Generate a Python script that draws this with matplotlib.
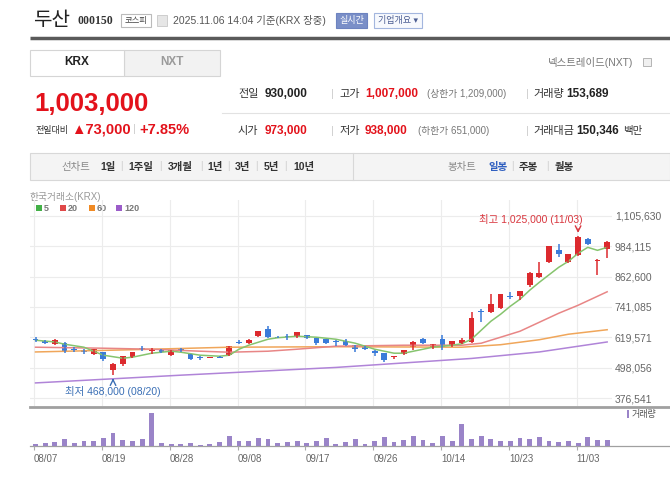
import matplotlib
matplotlib.use('Agg')
import matplotlib.pyplot as plt
from matplotlib.patches import Rectangle

plt.rcParams['font.family'] = ['Liberation Sans', 'Noto Sans CJK KR', 'DejaVu Sans']

# daily candles, 2025-08-07 .. 2025-11-06 (KRX)
dates = ['08/07', '08/08', '08/11', '08/12', '08/13', '08/14', '08/18', '08/19', '08/20', '08/21',
         '08/22', '08/25', '08/26', '08/27', '08/28', '08/29', '09/01', '09/02', '09/03', '09/04',
         '09/05', '09/08', '09/09', '09/10', '09/11', '09/12', '09/15', '09/16', '09/17', '09/18',
         '09/19', '09/22', '09/23', '09/24', '09/25', '09/26', '09/29', '09/30', '10/01', '10/02',
         '10/10', '10/13', '10/14', '10/15', '10/16', '10/17', '10/20', '10/21', '10/22', '10/23',
         '10/24', '10/27', '10/28', '10/29', '10/30', '10/31', '11/03', '11/04', '11/05', '11/06']

opens = [614000, 604000, 592000, 596000, 574000, 568000, 552000, 560000, 488000, 512000,
         540000, 578000, 566000, 568000, 548000, 571000, 552000, 542000, 538000, 542000,
         548000, 602000, 596000, 624000, 652000, 622000, 621000, 620000, 628000, 616000,
         612000, 606000, 604000, 588000, 582000, 566000, 556000, 540000, 552000, 580000,
         612000, 580000, 612000, 588000, 596000, 600000, 726000, 720000, 736000, 786000,
         784000, 828000, 860000, 920000, 968000, 920000, 948000, 1012000, 924000, 973000]
highs = [620000, 610000, 612000, 601000, 580000, 572000, 574000, 562000, 516000, 546000,
         562000, 586000, 575000, 572000, 570000, 576000, 554000, 544000, 542000, 546000,
         586000, 608000, 612000, 646000, 666000, 626000, 632000, 642000, 630000, 618000,
         614000, 610000, 613000, 590000, 584000, 568000, 558000, 546000, 570000, 604000,
         616000, 594000, 628000, 606000, 618000, 720000, 732000, 792000, 794000, 800000,
         806000, 880000, 920000, 986000, 992000, 954000, 1025000, 1018000, 934000, 1007000]
lows = [600000, 592000, 590000, 557000, 562000, 554000, 550000, 524000, 468000, 506000,
        538000, 564000, 552000, 556000, 544000, 560000, 530000, 530000, 536000, 536000,
        544000, 592000, 592000, 622000, 618000, 616000, 608000, 618000, 614000, 590000,
        592000, 586000, 586000, 560000, 568000, 544000, 522000, 534000, 550000, 568000,
        594000, 572000, 568000, 582000, 592000, 596000, 680000, 716000, 734000, 772000,
        770000, 822000, 858000, 918000, 940000, 918000, 944000, 988000, 868000, 938000]
closes = [608000, 598000, 608000, 560000, 568000, 560000, 572000, 532000, 512000, 544000,
          560000, 572000, 570000, 560000, 568000, 563000, 532000, 536000, 540000, 538000,
          584000, 598000, 608000, 644000, 620000, 618000, 619000, 640000, 616000, 596000,
          596000, 600000, 588000, 572000, 572000, 556000, 528000, 544000, 568000, 600000,
          596000, 592000, 580000, 604000, 610000, 696000, 722000, 752000, 792000, 782000,
          804000, 876000, 876000, 984000, 952000, 952000, 1020000, 992000, 930000, 1003000]
volumes = [45000, 72000, 99000, 171000, 72000, 126000, 126000, 198000, 342000, 162000,
           126000, 171000, 864000, 90000, 45000, 54000, 72000, 36000, 54000, 99000,
           270000, 126000, 126000, 198000, 171000, 90000, 108000, 126000, 81000, 126000,
           198000, 45000, 99000, 171000, 45000, 126000, 225000, 108000, 153000, 252000,
           153000, 72000, 252000, 126000, 567000, 171000, 270000, 171000, 126000, 126000,
           198000, 180000, 225000, 135000, 108000, 126000, 72000, 225000, 153000, 153689]

# moving averages (day index, price)
ma5_day = [0, 2, 3, 5, 7, 9, 10, 12, 14, 15, 17, 19, 20, 21, 22, 24, 25, 27, 29, 31, 33, 35, 37, 38,
           40, 41, 43, 44, 45, 46, 47, 48, 49, 50, 51, 52, 53, 54, 55, 56, 57, 58, 59]
ma5_val = [608000, 601000, 592000, 580000, 548000, 536000, 540000, 556000, 564000, 560000, 548000,
           544000, 548000, 572000, 588000, 612000, 618000, 624000, 620000, 612000, 596000, 572000,
           556000, 556000, 572000, 580000, 588000, 594000, 612000, 648000, 684000, 712000, 744000,
           772000, 808000, 840000, 870000, 900000, 924000, 956000, 980000, 968000, 980000]
ma20_day = [0, 7, 12, 17, 20, 24, 27, 31, 38, 44, 46, 48, 50, 52, 54, 56, 58, 59]
ma20_val = [580000, 576000, 572000, 564000, 560000, 564000, 572000, 584000, 588000, 588000,
            596000, 620000, 644000, 680000, 716000, 748000, 784000, 802000]
ma60_day = [0, 10, 20, 31, 44, 48, 52, 55, 59]
ma60_val = [561000, 570000, 580000, 582000, 580000, 590000, 610000, 632000, 650000]
ma120_day = [0, 15, 31, 45, 52, 59]
ma120_val = [437000, 468000, 499000, 535000, 561000, 601000]

price_ticks = [1105630, 984115, 862600, 741085, 619571, 498056, 376541]
label_days = [0, 7, 14, 21, 28, 35, 42, 49, 56]

UP = '#dc2a2e'
DOWN = '#3a7bd9'
GRID = '#ececec'

fig = plt.figure(figsize=(6.7, 4.78), dpi=100)

# page layer in pixel coordinates
bg = fig.add_axes([0, 0, 1, 1])
bg.set_xlim(0, 670)
bg.set_ylim(478, 0)
bg.axis('off')


def txt(x, y, s, size=7.5, color='#333', **kw):
    bg.text(x, y, s, fontsize=size, color=color, va='center', ha=kw.pop('ha', 'left'), **kw)


def box(x, y, w, h, face='white', edge='#d5d5d5', lw=0.8):
    bg.add_patch(Rectangle((x, y), w, h, facecolor=face, edgecolor=edge, lw=lw))


# header
txt(33, 20, '두산', size=14.5, color='#222')
txt(78, 21, '000150', size=8.5, color='#333', weight='bold', family='Liberation Serif')
box(121, 13.5, 30, 13.5, edge='#bbbbbb')
txt(136, 20.5, '코스피', size=6, color='#444', ha='center')
box(157, 15, 10, 11, face='#e6e6e6', edge='#c8c8c8', lw=0.6)
txt(173, 20.5, '2025.11.06 14:04 기준(KRX 장중)', size=7.5, color='#555')
box(336, 13, 31, 15, face='#7a8fc8', edge='#6d83c0')
txt(351.5, 20.5, '실시간', size=6.5, color='white', ha='center')
box(374, 13, 48, 15, face='#f7f9fd', edge='#a3b6de')
txt(378, 20.5, '기업개요 ▾', size=6.5, color='#4b5d92')
bg.plot([30, 670], [38, 38], color='#5a5a5a', lw=2.5, solid_capstyle='butt')

# market tabs
box(124, 50, 96, 26, face='#f2f2f2')
box(30, 50, 94, 26)
txt(77, 62, 'KRX', size=8.5, color='#222', weight='bold', ha='center')
txt(172, 62, 'NXT', size=8.5, color='#9a9a9a', weight='bold', ha='center')
txt(548, 62, '넥스트레이드(NXT)', size=7.5, color='#777')
box(643, 57.5, 8, 8, face='#f0f0f0', edge='#aaaaaa', lw=0.6)

# current price block
txt(34, 104, '1,003,000', size=18.5, color='#e3121b', weight='bold')
txt(35, 130, '전일대비', size=6.5, color='#333')
txt(71, 130, '▲73,000', size=10.5, color='#e3121b', weight='bold')
txt(133, 129, '|', size=8, color='#cccccc')
txt(139, 130, '+7.85%', size=10.5, color='#e3121b', weight='bold')

rows = [
    (94, [('전일', 238, '#333', 'normal', 8), ('930,000', 265, '#222', 'bold', 8.5),
          ('|', 331, '#cccccc', 'normal', 8), ('고가', 339, '#333', 'normal', 8),
          ('1,007,000', 365, '#e3121b', 'bold', 8.5), ('(상한가 1,209,000)', 427, '#777', 'normal', 7),
          ('|', 526, '#cccccc', 'normal', 8), ('거래량', 533, '#333', 'normal', 8),
          ('153,689', 566, '#222', 'bold', 8.5)]),
    (131, [('시가', 238, '#333', 'normal', 8), ('973,000', 265, '#e3121b', 'bold', 8.5),
           ('|', 331, '#cccccc', 'normal', 8), ('저가', 339, '#333', 'normal', 8),
           ('938,000', 365, '#e3121b', 'bold', 8.5), ('(하한가 651,000)', 418, '#777', 'normal', 7),
           ('|', 526, '#cccccc', 'normal', 8), ('거래대금', 533, '#333', 'normal', 8),
           ('150,346', 576, '#222', 'bold', 8.5), ('백만', 623, '#333', 'normal', 7.5)]),
]
for y, items in rows:
    for s, x, c, w, fs in items:
        txt(x, y, s, size=fs, color=c, weight=w)
bg.plot([222, 670], [113, 113], color='#e2e2e2', lw=0.8)

# chart toolbar
box(30, 153, 640, 27, face='#f4f4f4', edge='#d8d8d8')
bg.plot([353, 353], [153, 180], color='#d8d8d8', lw=0.8)
txt(61, 167, '선차트', color='#888')
for s, x in [('1일', 100), ('1주일', 128), ('3개월', 168), ('1년', 207), ('3년', 235), ('5년', 264), ('10년', 293)]:
    txt(x, 167, s, color='#333', weight='bold')
for x in [120, 159, 200, 227, 255, 284]:
    txt(x, 166, '|', size=7, color='#cccccc')
txt(447, 167, '봉차트', color='#888')
txt(488, 167, '일봉', color='#2f5fc0', weight='bold')
txt(511, 166, '|', size=7, color='#cccccc')
txt(519, 167, '주봉', color='#333', weight='bold')
txt(546, 166, '|', size=7, color='#cccccc')
txt(555, 167, '월봉', color='#333', weight='bold')

# chart legend
txt(30, 197, '한국거래소(KRX)', size=7, color='#999')
for x, c, s in [(36, '#43b047', '5'), (60, '#e04848', '20'), (89, '#f08a24', '60'), (116, '#9b5cc9', '120')]:
    bg.add_patch(Rectangle((x, 205), 6, 6, facecolor=c, edgecolor='none'))
    txt(x + 8, 208.5, s, size=6.5, color='#777', weight='bold')

# price panel
ax = fig.add_axes([30 / 670, (478 - 406) / 478, 582 / 670, 206 / 478])
ax.set_facecolor('none')
ax.set_xlim(-0.57, 59.5)
ax.set_ylim(344565, 1169582)
for s in ax.spines.values():
    s.set_visible(False)
ax.set_yticks(price_ticks)
ax.set_yticklabels([f'{v:,}' for v in price_ticks])
ax.yaxis.tick_right()
ax.tick_params(axis='y', length=0, pad=2, labelsize=7.5, labelcolor='#666')
ax.set_xticks([d - 0.15 for d in label_days])
ax.tick_params(axis='x', length=0, labelbottom=False)
ax.grid(True, color=GRID, lw=0.8)
ax.set_axisbelow(True)

ax.plot(ma120_day, ma120_val, color='#b084d8', lw=1.1)
ax.plot(ma60_day, ma60_val, color='#f0a65a', lw=1.1)
ax.plot(ma20_day, ma20_val, color='#e88686', lw=1.1)
ax.plot(ma5_day, ma5_val, color='#86c46e', lw=1.1)

for i in range(len(dates)):
    c = UP if closes[i] >= opens[i] else DOWN
    ax.vlines(i, lows[i], highs[i], color=c, lw=1.1)
    lo = min(opens[i], closes[i])
    h = max(abs(closes[i] - opens[i]), 4000)
    ax.bar(i, h, bottom=lo, width=0.6, color=c)

hi_i = highs.index(max(highs))
lo_i = lows.index(min(lows))
ax.annotate('', xy=(hi_i, highs[hi_i] + 1500), xytext=(hi_i, highs[hi_i] + 40000),
            arrowprops=dict(arrowstyle='->', color='#d9363e', lw=1))
ax.text(hi_i + 0.5, highs[hi_i] + 66000, f'최고 {max(highs):,} ({dates[hi_i]})',
        color='#d9363e', fontsize=7.5, ha='right', va='center')
ax.annotate('', xy=(lo_i, lows[lo_i] - 1500), xytext=(lo_i, lows[lo_i] - 32000),
            arrowprops=dict(arrowstyle='->', color='#3a6fb5', lw=1))
ax.text(3.0, lows[lo_i] - 64000, f'최저 {min(lows):,} ({dates[lo_i]})',
        color='#3a6fb5', fontsize=7.5, ha='left', va='center')

# volume panel
vax = fig.add_axes([30 / 670, (478 - 446) / 478, 582 / 670, 40 / 478])
vax.set_facecolor('none')
vax.set_xlim(-0.57, 59.5)
vax.set_ylim(0, 1050000)
for s in vax.spines.values():
    s.set_visible(False)
vax.set_yticks([])
vax.bar(range(len(volumes)), volumes, width=0.5, color='#9a84c8')
vax.set_xticks([d - 0.15 for d in label_days])
vax.set_xticklabels([dates[d] for d in label_days])
for lbl in vax.get_xticklabels():
    lbl.set_ha('left')
vax.tick_params(axis='x', length=3, color='#aaaaaa', width=0.8, pad=3, labelsize=7, labelcolor='#666')

bg.plot([30, 670], [406.5, 406.5], color='#a0a0a0', lw=2)
bg.plot([30, 670], [446, 446], color='#a0a0a0', lw=0.9)
bg.add_patch(Rectangle((627, 410), 2, 8, facecolor='#9a84c8', edgecolor='none'))
txt(632, 414, '거래량', size=6.5, color='#555')

bg.set_zorder(0)
fig.savefig('out.png', dpi=100)
